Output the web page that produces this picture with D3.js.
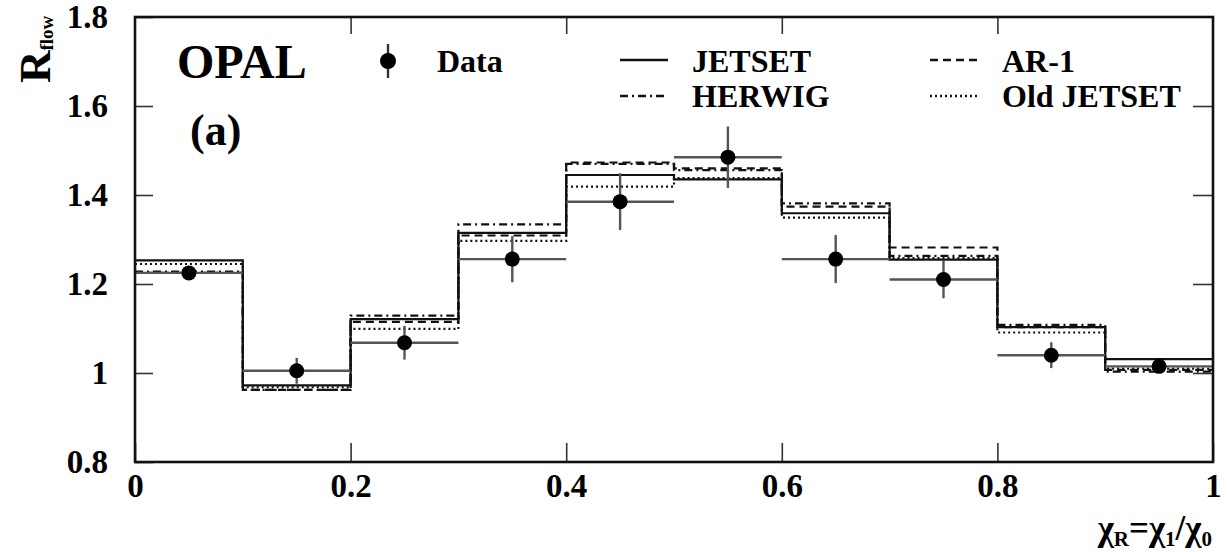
<!DOCTYPE html>
<html>
<head>
<meta charset="utf-8">
<script src="https://cdn.jsdelivr.net/npm/d3@7"></script>
<style>
	body { margin: 0; background: #fff; }
	svg text { font-family: "Liberation Serif", "Times New Roman", serif; font-weight: bold; fill: #000; }
</style>
</head>
<body>
<svg id="graph"></svg>
<script>
// bin edges of chi_R and the measured / predicted R_flow per bin
var bin_edges  = [ 0, 0.1, 0.2, 0.3, 0.4, 0.5, 0.6, 0.7, 0.8, 0.9, 1 ];
var data_x     = [ 0.05, 0.15, 0.25, 0.35, 0.45, 0.55, 0.65, 0.75, 0.85, 0.95 ];
var data_y     = [ 1.225, 1.005, 1.068, 1.256, 1.385, 1.485, 1.256, 1.210, 1.040, 1.015 ];
var data_err   = [ 0.010, 0.029, 0.038, 0.052, 0.064, 0.069, 0.054, 0.042, 0.029, 0.010 ];

var jetset     = [ 1.253, 0.972, 1.121, 1.315, 1.445, 1.435, 1.359, 1.255, 1.103, 1.031 ];
var ar1        = [ 1.225, 0.962, 1.115, 1.309, 1.473, 1.460, 1.374, 1.282, 1.103, 1.007 ];
var herwig     = [ 1.228, 0.962, 1.129, 1.334, 1.470, 1.456, 1.381, 1.263, 1.108, 1.003 ];
var old_jetset = [ 1.245, 0.968, 1.099, 1.297, 1.419, 1.438, 1.349, 1.258, 1.091, 1.010 ];

var x_ticks = [ 0, 0.2, 0.4, 0.6, 0.8, 1 ];
var y_ticks = [ 0.8, 1, 1.2, 1.4, 1.6, 1.8 ];

var series = [
	{ name : "JETSET",     values : jetset,     dash : null      },
	{ name : "AR-1",       values : ar1,        dash : "8,5"     },
	{ name : "HERWIG",     values : herwig,     dash : "8,4,2,4" },
	{ name : "Old JETSET", values : old_jetset, dash : "2,3"     }
];

var serif = "Liberation Serif";

var margin = { top : 17, right : 14, bottom : 90, left : 135 };
var width  = 1227 - margin.left - margin.right;
var height = 552  - margin.top  - margin.bottom;

var root = d3.select( "#graph" )
	.attr( "width", 1227 )
	.attr( "height", 552 );

var svg = root.append( "g" )
	.attr( "transform", "translate(" + margin.left + "," + margin.top + ")" );

var x = d3.scaleLinear().domain([ 0, 1 ]).range([ 0, width ]);
var y = d3.scaleLinear().domain([ 0.8, 1.8 ]).range([ height, 0 ]);

var fmt = function(d){ return d === 0 || d === 1 ? String( d ) : d3.format( ".1f" )( d ); };

// axes, ticks pointing inwards
svg.append( "g" )
	.attr( "transform", "translate(0," + height + ")" )
	.call( d3.axisBottom( x ).tickValues( x_ticks ).tickSizeInner( -19 ).tickSizeOuter( 0 ).tickPadding( 12 ).tickFormat( fmt ) );

svg.append( "g" )
	.call( d3.axisTop( x ).tickValues( x_ticks.slice( 1, -1 ) ).tickSizeInner( -17 ).tickSizeOuter( 0 ).tickFormat( "" ) );

svg.append( "g" )
	.call( d3.axisLeft( y ).tickValues( y_ticks ).tickSizeInner( -18 ).tickSizeOuter( 0 ).tickPadding( 27 ).tickFormat( fmt ) );

svg.append( "g" )
	.attr( "transform", "translate(" + width + ",0)" )
	.call( d3.axisRight( y ).tickValues( y_ticks.slice( 1, -1 ) ).tickSizeInner( -20 ).tickSizeOuter( 0 ).tickFormat( "" ) );

svg.selectAll( ".domain" ).remove();
svg.selectAll( "g" ).attr( "font-family", serif ).attr( "font-weight", "bold" );
svg.selectAll( ".tick line" ).attr( "stroke", "#333" ).attr( "stroke-width", 1.6 );
svg.selectAll( ".tick text" )
	.attr( "font-family", serif )
	.attr( "font-weight", "bold" )
	.attr( "font-size", 33 )
	.attr( "fill", "#000" );

// step histograms
var step = d3.line()
	.x(function(d){ return x( d[0] ); })
	.y(function(d){ return y( d[1] ); });

series.forEach(function(s){
	var pts = [];
	s.values.forEach(function(v, i){
		pts.push([ bin_edges[i], v ]);
		pts.push([ bin_edges[i + 1], v ]);
	});
	svg.append( "path" )
		.attr( "d", step( pts ) )
		.attr( "fill", "none" )
		.attr( "stroke", "#111" )
		.attr( "stroke-width", 2.2 )
		.attr( "stroke-dasharray", s.dash );
});

// data points with error bars
var pts = svg.append( "g" )
	.selectAll( "g" )
	.data( data_x.map(function(d, i){ return { x : d, y : data_y[i], e : data_err[i] }; }) )
	.enter()
	.append( "g" );

pts.append( "line" )
	.attr( "x1", function(d){ return x( d.x - 0.05 ); } )
	.attr( "x2", function(d){ return x( d.x + 0.05 ); } )
	.attr( "y1", function(d){ return y( d.y ); } )
	.attr( "y2", function(d){ return y( d.y ); } )
	.attr( "stroke", "#555" )
	.attr( "stroke-width", 2.4 );

pts.append( "line" )
	.attr( "x1", function(d){ return x( d.x ); } )
	.attr( "x2", function(d){ return x( d.x ); } )
	.attr( "y1", function(d){ return y( d.y - d.e ); } )
	.attr( "y2", function(d){ return y( d.y + d.e ); } )
	.attr( "stroke", "#555" )
	.attr( "stroke-width", 2.4 );

pts.append( "circle" )
	.attr( "cx", function(d){ return x( d.x ); } )
	.attr( "cy", function(d){ return y( d.y ); } )
	.attr( "r", 7.5 )
	.attr( "fill", "#000" );

// frame
svg.append( "rect" )
	.attr( "width", width )
	.attr( "height", height )
	.attr( "fill", "none" )
	.attr( "stroke", "#111" )
	.attr( "stroke-width", 2.6 );

// labels
svg.append( "text" )
	.attr( "x", 177 - margin.left )
	.attr( "y", 78 - margin.top )
	.attr( "font-family", serif )
	.attr( "font-size", 48 )
	.text( "OPAL" );

svg.append( "text" )
	.attr( "x", 190 - margin.left )
	.attr( "y", 145 - margin.top )
	.attr( "font-family", serif )
	.attr( "font-size", 44 )
	.text( "(a)" );

var ylab = root.append( "text" )
	.attr( "transform", "translate(50,83) rotate(-90)" )
	.attr( "font-family", serif )
	.attr( "font-size", 45 );
ylab.append( "tspan" ).text( "R" );
ylab.append( "tspan" ).attr( "dy", 3 ).attr( "font-size", 19 ).text( "flow" );

var xlab = root.append( "text" )
	.attr( "x", 1212 )
	.attr( "y", 540 )
	.attr( "text-anchor", "end" )
	.attr( "font-family", serif )
	.attr( "font-size", 35 );
xlab.append( "tspan" ).text( "χ" );
xlab.append( "tspan" ).attr( "dy", 6 ).attr( "font-size", 21 ).text( "R" );
xlab.append( "tspan" ).attr( "dy", -6 ).text( "=χ" );
xlab.append( "tspan" ).attr( "dy", 6 ).attr( "font-size", 21 ).text( "1" );
xlab.append( "tspan" ).attr( "dy", -6 ).text( "/χ" );
xlab.append( "tspan" ).attr( "dy", 6 ).attr( "font-size", 21 ).text( "0" );

// legend
var legend = root.append( "g" );

legend.append( "line" )
	.attr( "x1", 388 ).attr( "x2", 388 )
	.attr( "y1", 44 ).attr( "y2", 78 )
	.attr( "stroke", "#333" ).attr( "stroke-width", 2.4 );
legend.append( "circle" )
	.attr( "cx", 388 ).attr( "cy", 61 ).attr( "r", 8 ).attr( "fill", "#000" );
legend.append( "text" )
	.attr( "x", 437 ).attr( "y", 72 )
	.attr( "font-family", serif )
	.attr( "font-size", 32 )
	.text( "Data" );

var legend_pos = [
	{ lx : 620, ty : 72,  ly : 60 },
	{ lx : 930, ty : 72,  ly : 60 },
	{ lx : 620, ty : 107, ly : 96 },
	{ lx : 930, ty : 107, ly : 96 }
];

series.forEach(function(s, i){
	var p = legend_pos[i];
	legend.append( "line" )
		.attr( "x1", p.lx ).attr( "x2", p.lx + 48 )
		.attr( "y1", p.ly ).attr( "y2", p.ly )
		.attr( "stroke", "#111" )
		.attr( "stroke-width", 2.4 )
		.attr( "stroke-dasharray", s.dash );
	legend.append( "text" )
		.attr( "x", p.lx + 72 ).attr( "y", p.ty )
		.attr( "font-family", serif )
		.attr( "font-size", 32 )
		.text( s.name );
});
</script>
</body>
</html>
